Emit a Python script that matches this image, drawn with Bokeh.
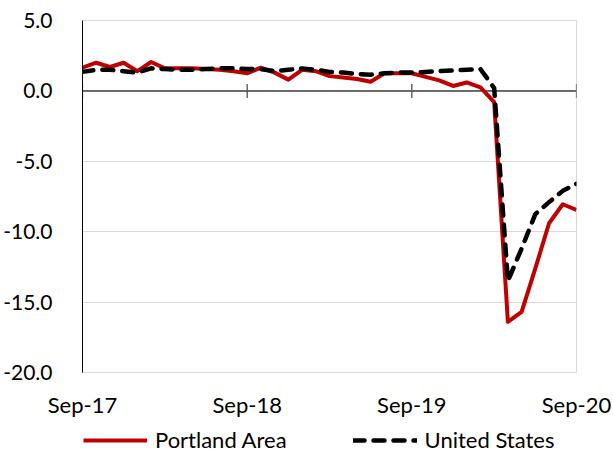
import math
from bokeh.plotting import figure
from bokeh.layouts import column
from bokeh.models import (Range1d, FixedTicker, NumeralTickFormatter, Span,
                          Legend, LegendItem, ColumnDataSource)
from bokeh.embed import file_html
from bokeh.resources import INLINE

# Month index 0 = Sep-17 ... 36 = Sep-20
month_index = list(range(37))
portland = [1.65, 2.0, 1.7, 2.0, 1.4, 2.05, 1.6, 1.6, 1.6, 1.55, 1.5, 1.4,
            1.25, 1.65, 1.3, 0.8, 1.5, 1.4, 1.05, 0.95, 0.85, 0.65, 1.25, 1.25,
            1.25, 1.0, 0.75, 0.35, 0.6, 0.25, -0.8, -16.4, -15.7, -12.6, -9.4,
            -8.05, -8.45]
united_states = [1.35, 1.5, 1.5, 1.4, 1.3, 1.6, 1.55, 1.5, 1.5, 1.55, 1.6, 1.6,
                 1.55, 1.55, 1.4, 1.5, 1.6, 1.5, 1.35, 1.3, 1.2, 1.15, 1.25, 1.3,
                 1.3, 1.35, 1.4, 1.45, 1.5, 1.55, 0.2, -13.5, -11.2, -8.75, -7.9,
                 -7.1, -6.6]
x_ticks = [0, 12, 24, 36]
x_tick_labels = ["Sep-17", "Sep-18", "Sep-19", "Sep-20"]
y_ticks = [-20, -15, -10, -5, 0, 5]
series_names = ["Portland Area", "United States"]

FONT = "Lato"
RED = "#C00000"

p = figure(width=613, height=422, output_backend="svg", toolbar_location=None,
           x_range=Range1d(0, 36), y_range=Range1d(-20, 5),
           min_border_left=81, min_border_right=37, min_border_top=20,
           min_border_bottom=50)

p.outline_line_color = "#d9d9d9"
p.xgrid.grid_line_color = None
p.ygrid.ticker = FixedTicker(ticks=y_ticks)
p.ygrid.grid_line_color = "#d9d9d9"
p.ygrid.grid_line_width = 1

# y axis
p.yaxis.ticker = FixedTicker(ticks=y_ticks)
p.yaxis.formatter = NumeralTickFormatter(format="0.0")
p.yaxis.major_tick_line_color = None
p.yaxis.minor_tick_line_color = None
p.yaxis.axis_line_color = "#000000"
p.yaxis.axis_line_width = 1
p.yaxis.major_label_text_font = FONT
p.yaxis.major_label_text_font_size = "21px"
p.yaxis.major_label_text_color = "#000000"
p.yaxis.major_label_standoff = 24

# x axis (labels only at bottom)
p.xaxis.ticker = FixedTicker(ticks=x_ticks)
p.xaxis.major_label_overrides = {t: l for t, l in zip(x_ticks, x_tick_labels)}
p.xaxis.axis_line_color = None
p.xaxis.major_tick_line_color = None
p.xaxis.minor_tick_line_color = None
p.xaxis.major_label_text_font = FONT
p.xaxis.major_label_text_font_size = "22px"
p.xaxis.major_label_text_color = "#000000"
p.xaxis.major_label_standoff = 12

# zero line with ticks
zero = Span(location=0, dimension="width", line_color="#404040", line_width=1.5,
            level="underlay")
p.add_layout(zero)
tick_src = ColumnDataSource(dict(x=x_ticks, y=[0] * len(x_ticks)))
p.scatter("x", "y", source=tick_src, marker="dash", size=14, angle=math.pi / 2,
          line_color="#404040", line_width=1.2, level="underlay")

src = ColumnDataSource(dict(x=month_index, pdx=portland, us=united_states))
p.line("x", "pdx", source=src, line_color=RED, line_width=4, line_join="round")
p.line("x", "us", source=src, line_color="#000000", line_width=4.5,
       line_dash="11 9", line_cap="round", line_join="round")

# Legend strip below the chart (its own lines lie outside its visible range)
lg = figure(width=613, height=31, output_backend="svg", toolbar_location=None,
            x_axis_type=None, y_axis_type=None, min_border=0,
            x_range=Range1d(0, 36), y_range=Range1d(100, 101))
lg.outline_line_color = None
lg.grid.grid_line_color = None
l1 = lg.line("x", "pdx", source=src, line_color=RED, line_width=4)
l2 = lg.line("x", "us", source=src, line_color="#000000", line_width=4.5,
             line_dash="11 9", line_cap="round")
legend = Legend(items=[LegendItem(label=series_names[0], renderers=[l1]),
                       LegendItem(label=series_names[1], renderers=[l2])],
                orientation="horizontal", location=(1, 0),
                border_line_color=None, background_fill_alpha=0,
                label_text_font=FONT, label_text_font_size="22px",
                label_text_color="#000000", glyph_width=64, glyph_height=22,
                label_standoff=8, spacing=66, padding=2, margin=0)
lg.add_layout(legend, "center")

layout = column(p, lg, spacing=0)
open("out.html", "w").write(file_html(layout, INLINE))
